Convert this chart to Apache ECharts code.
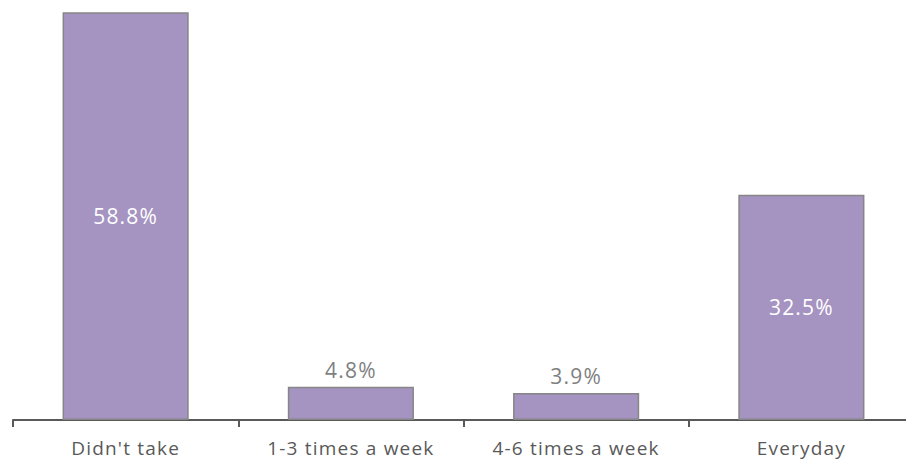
<!DOCTYPE html>
<html>
<head>
<meta charset="utf-8">
<script src="https://cdn.jsdelivr.net/npm/echarts@6/dist/echarts.min.js"></script>
<style>
  html, body { margin: 0; padding: 0; background: #fff; }
  #chart { width: 906px; height: 461px; }
  /* slightly open tracking for all chart text */
  #chart svg text { letter-spacing: 1.2px; }
</style>
</head>
<body>
<div id="chart"></div>
<script>
// Frequency categories and their shares (%)
const categories = ["Didn't take", "1-3 times a week", "4-6 times a week", "Everyday"];
const shares = [58.8, 4.8, 3.9, 32.5];

const FONT = '"Open Sans", "Noto Sans", sans-serif';

// Tall bars carry their label inside in white; short bars get a grey label on top
const barData = shares.map(v => {
  const inside = v > 20;
  return {
    value: v,
    label: inside
      ? { position: 'inside', color: '#ffffff' }
      : { position: 'top', color: '#7f7f7f', distance: 6 }
  };
});

const chart = echarts.init(document.getElementById('chart'), null, { renderer: 'svg' });
chart.setOption({
  animation: false,
  // plot area runs a little past the right edge, so the last tick is off-canvas
  grid: { left: 13, top: 4, width: 901, bottom: 41, containLabel: false, outerBoundsMode: 'none' },
  xAxis: {
    type: 'category',
    data: categories,
    axisLine: { lineStyle: { color: '#595959', width: 2 } },
    axisTick: { show: true, length: 7, lineStyle: { color: '#595959', width: 2 } },
    axisLabel: { color: '#595959', fontSize: 19, fontFamily: FONT, margin: 18 }
  },
  yAxis: {
    type: 'value',
    min: 0,
    max: 60,
    show: false,
    splitLine: { show: false }
  },
  series: [{
    type: 'bar',
    data: barData,
    barCategoryGap: '44%',
    itemStyle: { color: '#a593c1', borderColor: '#868686', borderWidth: 1.5 },
    label: {
      show: true,
      fontSize: 21,
      fontFamily: FONT,
      formatter: p => p.value.toFixed(1) + '%'
    }
  }]
});
</script>
</body>
</html>
